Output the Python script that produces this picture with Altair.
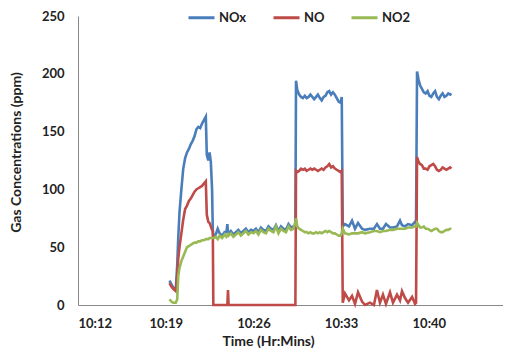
import altair as alt
import pandas as pd

# time in minutes after 10:00
t_min = [19.30, 19.45, 19.60, 19.80, 19.92, 20.00, 20.10, 20.25, 20.40, 20.55,
         20.70, 20.85, 21.00, 21.15, 21.30, 21.45, 21.60, 21.75, 21.90, 22.05,
         22.20, 22.28, 22.40, 22.50, 22.60, 22.70, 22.76, 22.80,
         22.85, 23.00, 23.15, 23.30, 23.50, 23.70, 23.85, 23.92, 23.97, 24.02,
         24.20, 24.40, 24.60, 24.80, 25.00, 25.20, 25.40, 25.60, 25.80, 26.00,
         26.20, 26.40, 26.60, 26.80, 27.00, 27.20, 27.40, 27.60, 27.80, 28.00,
         28.20, 28.40, 28.60, 28.80, 29.00, 29.20, 29.35,
         29.40, 29.50, 29.65, 29.80, 29.95, 30.10, 30.25, 30.40, 30.55, 30.70,
         30.85, 31.00, 31.15, 31.30, 31.45, 31.60, 31.75, 31.90, 32.05, 32.20,
         32.35, 32.50, 32.65, 32.80, 32.95, 33.05, 33.13,
         33.31, 33.63, 33.87, 34.11, 34.35, 34.67, 34.91, 35.30, 35.62, 35.86,
         36.10, 36.34, 36.58, 36.90, 37.14, 37.46, 37.70, 37.86, 38.10, 38.34,
         38.66, 38.90, 38.98,
         39.06, 39.18, 39.30, 39.45, 39.60, 39.75, 39.90, 40.05, 40.20, 40.35,
         40.50, 40.65, 40.80, 40.95, 41.10, 41.25, 41.40, 41.55, 41.70, 41.80]

nox = [21, 18, 15, 13, 35, 58, 80, 100, 118, 127,
       132, 135, 139, 142, 146, 152, 154, 153, 157, 160,
       163, 130, 125, 132, 124, 100, 64, 60,
       60, 61, 66, 62, 60, 63, 63, 70, 63, 62,
       64, 61, 63, 65, 62, 64, 66, 63, 65, 64,
       66, 63, 67, 65, 64, 68, 66, 65, 69, 64,
       68, 66, 65, 70, 67, 68, 68,
       194, 186, 182, 180, 179, 181, 179, 180, 182, 180,
       178, 180, 182, 179, 177, 180, 181, 184, 185, 182,
       184, 182, 179, 176, 175, 180, 68,
       70, 68, 73, 66, 71, 66, 65, 66, 66, 70,
       66, 66, 70, 67, 67, 68, 73, 69, 68, 70,
       69, 72, 70,
       202, 195, 190, 187, 184, 183, 185, 181, 180, 183,
       185, 180, 178, 181, 183, 180, 181, 183, 182, 183]

no = [19, 16, 14, 12, 25, 40, 50, 62, 74, 83,
      86, 90, 92, 95, 98, 100, 101, 102, 103, 105,
      107, 78, 72, 71, 68, 65, 64, 0,
      0, 0, 0, 0, 0, 0, 0, 0, 13, 0,
      0, 0, 0, 0, 0, 0, 0, 0, 0, 0,
      0, 0, 0, 0, 0, 0, 0, 0, 0, 0,
      0, 0, 0, 0, 0, 0, 0,
      116, 115, 116, 118, 117, 118, 116, 117, 118, 117,
      118, 117, 116, 117, 118, 117, 119, 120, 122, 119,
      120, 118, 117, 116, 115, 116, 2,
      10, 4, 8, 1, 11, 3, 0, 2, 0, 13,
      2, 9, 1, 11, 2, 9, 4, 12, 6, 2,
      7, 1, 2,
      128, 124, 122, 121, 118, 118, 117, 120, 121, 122,
      120, 117, 116, 117, 119, 118, 117, 118, 119, 118]

no2 = [5, 3, 2, 2, 5, 25, 32, 38, 42, 46,
       50, 51, 52, 53, 54, 54, 55, 55, 56, 56,
       57, 57, 57, 58, 58, 58, 58, 58,
       58, 59, 57, 60, 58, 61, 59, 60, 61, 60,
       62, 59, 61, 63, 60, 62, 64, 61, 63, 62,
       64, 61, 65, 63, 62, 66, 64, 63, 68, 62,
       66, 64, 63, 68, 65, 66, 72,
       75, 68, 66, 65, 64, 63, 63, 62, 63, 62,
       62, 63, 62, 63, 62, 63, 64, 63, 64, 63,
       62, 62, 61, 60, 60, 62, 66,
       62, 61, 62, 62, 62, 63, 62, 63, 64, 64,
       63, 64, 64, 65, 65, 66, 66, 66, 66, 67,
       67, 68, 68,
       71, 69, 67, 67, 68, 66, 66, 65, 64, 65,
       66, 66, 64, 63, 63, 64, 65, 65, 66, 66]

series = ["NOx", "NO", "NO2"]
colors = ["#4A7EBB", "#BE4B48", "#98B954"]
x_ticks = [12, 19, 26, 33, 40]
y_ticks = [0, 50, 100, 150, 200, 250]

df = pd.DataFrame({"t": t_min, "NOx": nox, "NO": no, "NO2": no2})
long = df.melt(id_vars="t", var_name="Gas", value_name="ppm")

FONT = "Lato"

base = alt.Chart(long).encode(
    x=alt.X("t:Q", title="Time (Hr:Mins)",
            scale=alt.Scale(domain=[12, 45.92], nice=False, zero=False),
            axis=alt.Axis(values=x_ticks, labelExpr="'10:' + datum.value",
                          ticks=False, grid=False, labelPadding=12,
                          titlePadding=4, titleX=190)),
    y=alt.Y("ppm:Q", title="Gas Concentrations (ppm)",
            scale=alt.Scale(domain=[0, 250], nice=False),
            axis=alt.Axis(values=y_ticks, ticks=False, grid=False,
                          labelPadding=14, titleX=-55, titleY=136)),
    color=alt.Color("Gas:N", scale=alt.Scale(domain=series, range=colors),
                    legend=alt.Legend(title=None, orient="none", direction="horizontal",
                                      legendX=109, legendY=-13,
                                      symbolType="stroke", symbolSize=676,
                                      symbolStrokeWidth=3, labelOffset=3,
                                      columnPadding=20, labelFontSize=13,
                                      labelFont=FONT, labelFontWeight="bold",
                                      labelColor="#222")),
)

layers = [base.transform_filter(alt.datum.Gas == s).mark_line(strokeWidth=2.6)
          for s in series]

chart = alt.layer(*layers).properties(
    width=425, height=289,
    autosize=alt.AutoSizeParams(type="none"),
    padding={"left": 70, "top": 8, "right": 0, "bottom": 45},
).configure_view(stroke=None).configure_axis(
    labelFont=FONT, titleFont=FONT, labelFontSize=13, titleFontSize=14,
    labelFontWeight="bold", titleFontWeight="bold",
    labelColor="#222", titleColor="#222",
    domainColor="#888", domainWidth=1,
)

chart.save("out.html", embed_options={"renderer": "svg", "actions": False})
